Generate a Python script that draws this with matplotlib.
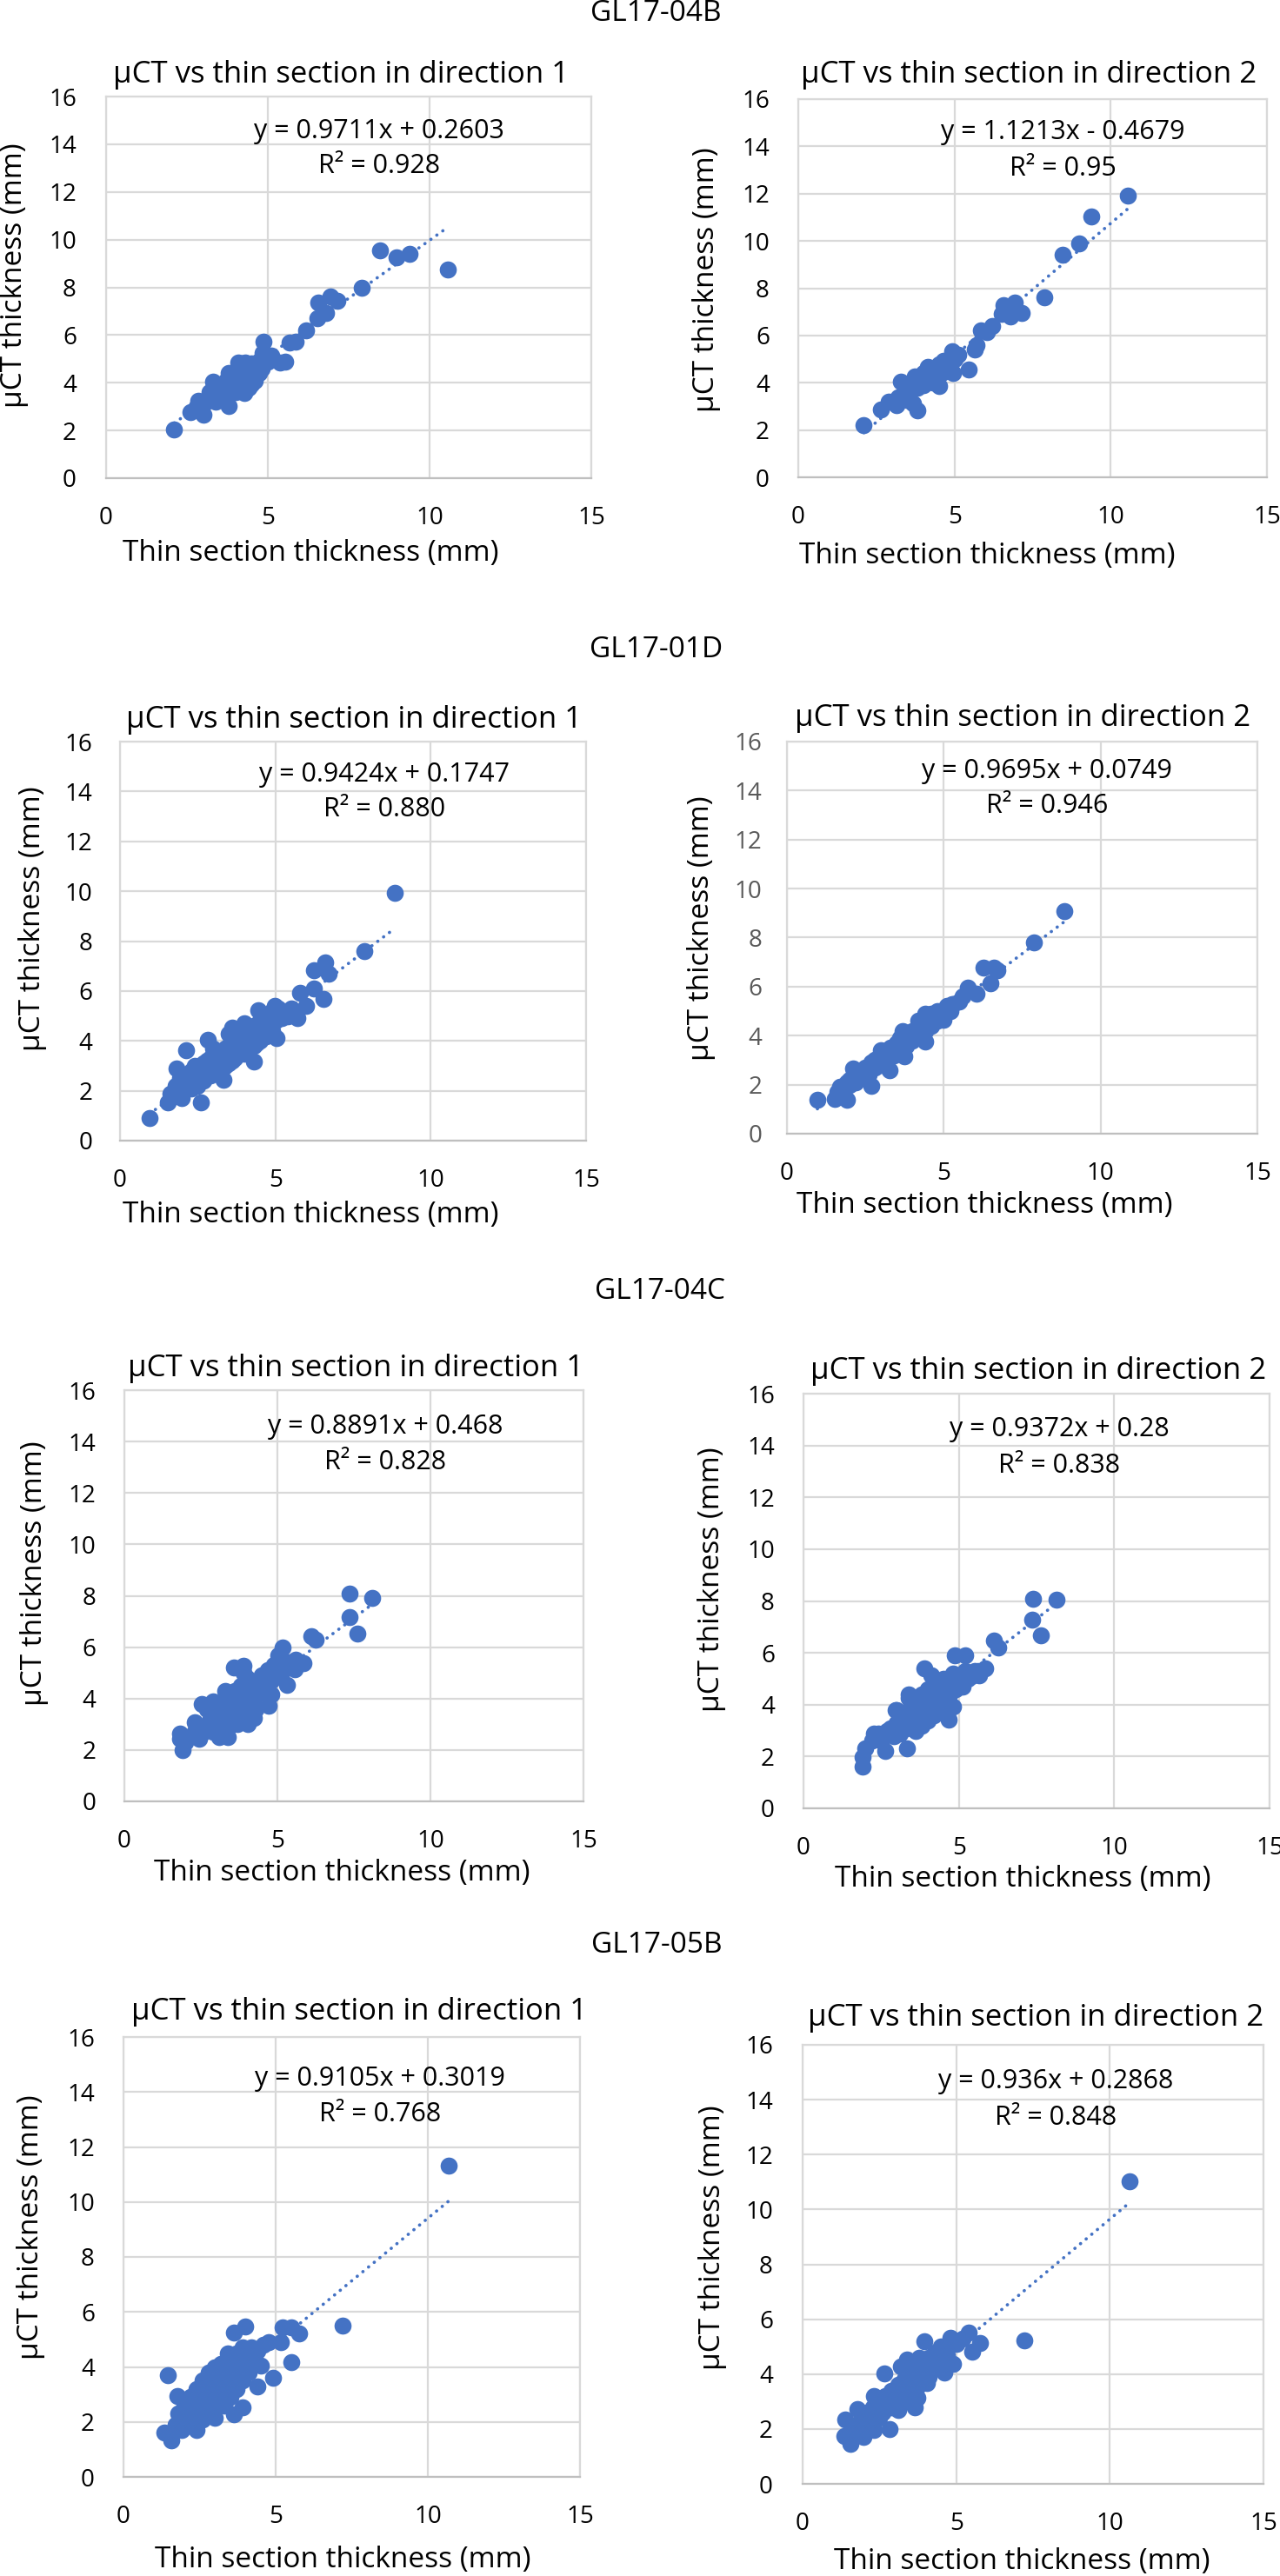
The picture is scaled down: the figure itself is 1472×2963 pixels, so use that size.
import numpy as np
import matplotlib
matplotlib.use("Agg")
import matplotlib.pyplot as plt

plt.rcParams['font.family'] = ['Open Sans', 'DejaVu Sans']

# ---------------- data ----------------
samples = ["GL17-04B", "GL17-01D", "GL17-04C", "GL17-05B"]
panel_titles = ["μCT vs thin section in direction 1", "μCT vs thin section in direction 2"]
x_label = "Thin section thickness (mm)"
y_label = "μCT thickness (mm)"
x_ticks = [0, 5, 10, 15]
y_ticks = [0, 2, 4, 6, 8, 10, 12, 14, 16]

# (thin section thickness, µCT thickness) pairs
gl04b_dir1 = [(2.11, 2.03), (2.60, 2.76), (2.86, 3.25), (3.01, 2.67), (3.30, 4.05), (3.45, 3.45),
              (3.79, 3.04), (3.83, 4.34), (4.09, 4.83), (4.28, 3.58), (4.31, 4.83), (4.49, 3.93),
              (4.72, 4.42), (4.87, 5.72), (4.85, 5.24), (5.10, 5.15), (5.38, 4.83), (5.55, 4.88),
              (5.67, 5.69), (5.86, 5.72), (6.18, 6.18), (6.54, 6.70), (6.57, 7.38), (6.81, 6.94),
              (6.94, 7.63), (7.16, 7.43), (7.89, 8.00), (8.46, 9.54), (8.97, 9.25), (9.39, 9.41),
              (10.56, 8.76),
              (3.2, 3.6), (3.5, 3.9), (3.6, 3.3), (3.7, 4.1), (3.9, 3.8), (4.0, 4.3), (4.1, 4.0),
              (4.2, 4.5), (4.3, 4.2), (4.4, 4.6), (4.5, 4.4), (4.6, 4.7), (4.7, 4.9), (4.8, 4.6),
              (4.9, 5.0), (5.0, 4.9), (3.4, 3.2), (3.0, 3.1), (2.8, 3.0), (4.4, 3.8), (4.6, 4.1),
              (3.8, 4.4), (4.2, 4.8), (4.0, 3.6), (3.6, 3.6), (3.9, 4.1), (4.1, 4.4), (4.3, 4.6),
              (4.5, 4.8), (3.3, 3.5), (4.7, 4.6)]

gl04b_dir2 = [(2.10, 2.22), (2.63, 2.87), (2.89, 3.20), (3.15, 3.04), (3.28, 4.05), (3.48, 3.28),
              (3.68, 3.12), (3.81, 2.84), (3.74, 4.27), (4.01, 4.43), (4.14, 4.68), (4.27, 4.18),
              (4.51, 3.86), (4.66, 4.92), (4.93, 5.33), (4.95, 4.43), (5.12, 5.17), (5.45, 4.56),
              (5.65, 5.42), (5.71, 5.58), (5.85, 6.20), (6.04, 6.15), (6.21, 6.40), (6.57, 7.30),
              (6.50, 6.92), (6.80, 6.81), (6.92, 7.38), (7.16, 6.97), (7.88, 7.63), (8.47, 9.40),
              (9.00, 9.88), (9.37, 11.03), (10.55, 11.93),
              (3.9, 4.1), (4.2, 4.3), (4.4, 4.5), (4.6, 4.4), (4.8, 4.7), (3.6, 3.7), (3.4, 3.5),
              (4.0, 3.9), (5.0, 5.0), (4.3, 4.0), (3.2, 3.4), (3.5, 3.3), (3.8, 3.8), (4.1, 4.2),
              (4.5, 4.8), (3.0, 3.2)]

gl01d_dir1 = [(0.95, 0.92), (1.55, 1.53), (1.61, 1.88), (1.81, 2.89), (2.12, 3.63), (1.94, 2.51),
              (2.59, 1.53), (2.84, 4.06), (3.60, 4.53), (3.33, 2.43), (4.30, 3.18), (5.05, 4.11),
              (4.46, 5.23), (4.99, 5.39), (5.71, 4.92), (5.98, 5.39), (5.78, 5.93), (6.24, 6.09),
              (6.55, 5.67), (6.24, 6.82), (6.60, 7.14), (6.71, 6.71), (7.87, 7.60), (8.85, 9.95),
              (1.7, 1.8), (1.9, 2.0), (2.0, 1.7), (2.1, 2.3), (2.2, 2.6), (2.3, 2.1), (2.4, 2.5),
              (2.5, 2.9), (2.5, 2.2), (2.6, 2.7), (2.7, 3.1), (2.7, 2.4), (2.8, 2.8), (2.9, 3.3),
              (2.9, 2.6), (3.0, 3.0), (3.1, 3.4), (3.1, 2.7), (3.2, 3.2), (3.3, 3.6), (3.3, 2.9),
              (3.4, 3.3), (3.5, 3.8), (3.5, 3.1), (3.6, 3.5), (3.7, 4.0), (3.7, 3.3), (3.8, 3.7),
              (3.9, 4.2), (3.9, 3.5), (4.0, 3.9), (4.1, 4.4), (4.1, 3.6), (4.2, 4.0), (4.3, 4.6),
              (4.3, 3.8), (4.4, 4.2), (4.5, 4.8), (4.5, 4.0), (4.6, 4.4), (4.7, 5.0), (4.7, 4.2),
              (4.8, 4.6), (4.9, 5.2), (4.9, 4.4), (5.0, 4.8), (5.1, 5.3), (5.2, 4.9), (5.3, 5.1),
              (5.4, 5.0), (5.5, 5.3), (5.6, 5.2), (3.0, 3.7), (3.5, 4.3), (4.0, 4.7), (2.3, 2.8),
              (1.8, 2.2), (2.0, 2.1), (2.2, 2.3), (2.4, 2.7), (2.6, 3.0), (2.8, 3.2), (3.0, 3.3),
              (3.2, 3.5), (3.4, 3.7), (3.6, 3.9), (3.8, 4.1), (4.0, 4.3), (4.2, 4.4), (4.4, 4.6),
              (4.6, 4.7), (4.8, 4.9), (5.0, 5.1), (5.2, 5.2), (3.2, 2.9), (3.6, 3.2), (4.0, 3.5),
              (4.4, 3.9), (4.8, 4.3), (2.6, 2.5), (3.4, 3.0), (2.4, 3.0), (2.0, 2.5)]

gl01d_dir2 = [(0.97, 1.39), (1.53, 1.43), (1.92, 1.39), (2.68, 1.95), (2.12, 2.66), (3.27, 2.58),
              (3.75, 3.14), (4.41, 3.77), (3.69, 4.17), (4.41, 4.88), (4.99, 4.64), (5.26, 5.28),
              (5.78, 5.96), (6.04, 5.71), (6.28, 6.78), (6.59, 6.78), (6.72, 6.66), (6.50, 6.15),
              (7.87, 7.81), (8.85, 9.08),
              (1.6, 1.7), (1.7, 1.9), (1.8, 1.7), (1.9, 2.1), (2.0, 2.0), (2.1, 2.3), (2.2, 2.1),
              (2.3, 2.5), (2.4, 2.3), (2.5, 2.7), (2.6, 2.4), (2.7, 2.9), (2.8, 2.7), (2.9, 3.1),
              (3.0, 2.8), (3.1, 3.3), (3.2, 3.0), (3.3, 3.5), (3.4, 3.2), (3.5, 3.7), (3.6, 3.4),
              (3.7, 3.9), (3.8, 3.6), (3.9, 4.1), (4.0, 3.8), (4.1, 4.2), (4.2, 4.0), (4.3, 4.5),
              (4.4, 4.2), (4.5, 4.6), (4.6, 4.4), (4.7, 4.8), (4.8, 4.6), (4.9, 5.0), (5.0, 4.8),
              (5.1, 5.2), (5.2, 5.0), (5.3, 5.3), (5.5, 5.4), (5.6, 5.6), (2.2, 2.6), (3.0, 3.4),
              (3.6, 3.9), (4.2, 4.6), (4.6, 4.9), (2.0, 2.2), (2.4, 2.6), (2.8, 3.0), (3.2, 3.4),
              (3.6, 3.8), (4.0, 4.2), (4.4, 4.6), (4.8, 5.0), (3.4, 3.5), (3.8, 4.0), (4.8, 4.9)]

gl04c_dir1 = [(1.89, 2.00), (1.82, 2.65), (1.82, 2.45), (2.43, 2.42), (2.29, 3.07), (2.52, 3.78),
              (2.90, 3.89), (3.10, 2.50), (3.37, 2.50), (3.57, 5.22), (3.90, 5.29), (4.04, 3.02),
              (4.24, 3.25), (4.71, 3.73), (4.80, 4.16), (5.31, 4.54), (5.18, 6.00), (5.04, 5.67),
              (5.58, 5.14), (5.85, 5.37), (6.12, 6.43), (6.25, 6.28), (7.35, 8.09), (7.35, 7.18),
              (7.62, 6.53), (8.10, 7.91),
              (2.6, 2.8), (2.8, 3.2), (2.9, 2.7), (3.0, 3.5), (3.1, 3.0), (3.2, 3.8), (3.3, 3.3),
              (3.4, 4.1), (3.4, 2.9), (3.5, 3.6), (3.6, 4.3), (3.6, 3.2), (3.7, 3.9), (3.8, 4.5),
              (3.8, 3.4), (3.9, 4.1), (4.0, 4.8), (4.0, 3.6), (4.1, 4.3), (4.2, 3.9), (4.3, 4.6),
              (4.4, 4.2), (4.5, 4.9), (4.6, 4.4), (4.7, 5.1), (4.8, 4.7), (4.9, 5.3), (5.0, 4.9),
              (5.1, 5.5), (5.2, 5.1), (5.4, 5.4), (5.6, 5.5), (3.9, 5.0), (4.1, 4.7), (3.3, 4.3),
              (2.7, 3.6), (3.0, 3.2), (3.2, 3.4), (3.4, 3.6), (3.5, 3.9), (3.6, 3.7), (3.7, 4.1),
              (3.8, 3.9), (3.9, 3.7), (4.0, 4.2), (4.1, 4.0), (4.2, 4.4), (4.3, 4.2), (4.4, 4.5),
              (4.5, 4.4), (4.6, 4.7), (4.7, 4.5), (4.8, 5.0), (4.9, 4.8), (5.0, 5.2), (3.3, 3.0),
              (3.1, 3.3), (2.9, 3.0), (2.5, 2.6), (2.3, 2.7), (2.1, 2.5), (2.0, 2.3), (4.3, 3.6),
              (3.7, 3.0), (5.3, 5.2), (5.5, 5.2)]

gl04c_dir2 = [(1.90, 1.62), (1.90, 1.99), (2.27, 2.89), (2.64, 2.22), (3.33, 2.32), (2.96, 3.79),
              (3.40, 4.27), (3.90, 5.41), (4.12, 5.14), (4.68, 3.42), (4.81, 3.94), (4.86, 5.89),
              (5.21, 5.89), (5.11, 4.69), (5.64, 5.14), (5.84, 5.39), (6.13, 6.46), (6.26, 6.19),
              (7.40, 8.10), (7.36, 7.28), (7.63, 6.67), (8.13, 8.06),
              (2.5, 2.6), (2.7, 3.0), (2.9, 2.8), (3.0, 3.3), (3.1, 2.9), (3.2, 3.6), (3.3, 3.1),
              (3.4, 3.8), (3.5, 3.3), (3.6, 4.1), (3.6, 3.0), (3.7, 3.6), (3.8, 4.4), (3.8, 3.2),
              (3.9, 3.9), (4.0, 4.6), (4.0, 3.4), (4.1, 4.1), (4.2, 4.8), (4.2, 3.6), (4.3, 4.3),
              (4.4, 3.8), (4.5, 4.6), (4.5, 5.0), (4.6, 4.2), (4.7, 4.8), (4.8, 5.2), (4.9, 4.6),
              (5.0, 5.0), (5.2, 5.3), (5.4, 5.1), (3.4, 4.4), (3.0, 3.8), (2.4, 2.9),
              (2.6, 2.8), (2.8, 3.1), (3.0, 3.0), (3.2, 3.3), (3.4, 3.5), (3.5, 3.7), (3.6, 3.5),
              (3.7, 3.9), (3.8, 3.7), (3.9, 4.2), (4.0, 4.0), (4.1, 4.4), (4.2, 4.2), (4.3, 4.6),
              (4.4, 4.4), (4.6, 4.6), (4.8, 4.8), (5.0, 4.8), (3.9, 3.5), (4.3, 3.9), (4.7, 4.4),
              (3.3, 3.4), (2.2, 2.6), (2.0, 2.3), (5.3, 5.0), (5.5, 5.3)]

gl05b_dir1 = [(1.46, 3.70), (1.35, 1.61), (1.57, 1.33), (1.76, 2.93), (2.41, 1.70), (3.01, 2.15),
              (3.62, 2.29), (3.92, 2.54), (3.62, 5.26), (4.00, 5.47), (4.41, 3.28), (4.91, 3.59),
              (4.50, 4.06), (5.51, 4.16), (4.77, 4.90), (5.18, 4.90), (5.22, 5.43), (5.51, 5.43),
              (5.78, 5.23), (7.20, 5.51), (10.68, 11.31), (3.42, 4.48),
              (1.7, 1.9), (1.8, 2.3), (1.9, 1.7), (2.0, 2.6), (2.1, 2.0), (2.2, 2.9), (2.3, 2.3),
              (2.4, 3.2), (2.5, 2.6), (2.6, 3.5), (2.6, 2.1), (2.7, 2.9), (2.8, 3.8), (2.8, 2.4),
              (2.9, 3.2), (3.0, 4.0), (3.0, 2.7), (3.1, 3.5), (3.2, 3.0), (3.3, 3.8), (3.3, 2.6),
              (3.4, 3.3), (3.5, 4.2), (3.5, 2.9), (3.6, 3.7), (3.7, 4.5), (3.7, 3.2), (3.8, 4.0),
              (3.9, 3.5), (4.0, 4.4), (4.1, 3.8), (4.2, 4.7), (4.3, 4.1), (4.4, 4.6), (4.6, 4.8),
              (2.4, 2.0), (2.2, 2.5), (3.2, 4.1), (1.8, 2.0), (2.0, 2.2), (2.2, 2.3), (2.4, 2.6),
              (2.6, 2.8), (2.8, 3.0), (3.0, 3.3), (3.2, 3.5), (3.4, 3.6), (3.6, 3.9), (3.8, 4.2),
              (4.0, 4.1), (2.5, 3.0), (2.9, 3.6), (3.1, 3.9), (3.4, 4.0), (3.6, 4.3), (3.9, 4.7),
              (2.7, 2.5), (3.1, 2.8), (3.5, 3.2), (1.6, 1.6), (4.2, 4.3)]

gl05b_dir2 = [(1.35, 1.75), (1.55, 1.47), (1.39, 2.36), (1.99, 1.70), (1.79, 2.71), (2.33, 1.98),
              (2.83, 2.01), (2.66, 4.01), (2.33, 3.21), (3.20, 4.27), (3.40, 4.52), (3.64, 2.78),
              (3.73, 3.14), (3.96, 5.19), (4.06, 3.67), (4.60, 4.06), (4.89, 4.38), (4.80, 5.33),
              (5.40, 5.51), (5.51, 4.81), (5.78, 5.12), (7.21, 5.23), (10.64, 11.02),
              (1.9, 2.3), (2.1, 2.6), (2.2, 2.1), (2.3, 2.8), (2.4, 2.4), (2.5, 3.0), (2.6, 2.6),
              (2.7, 3.2), (2.8, 2.8), (2.9, 3.4), (3.0, 3.0), (3.1, 3.6), (3.1, 2.7), (3.2, 3.2),
              (3.3, 3.8), (3.4, 3.4), (3.5, 4.0), (3.5, 3.0), (3.6, 3.6), (3.7, 4.2), (3.8, 3.8),
              (3.9, 4.4), (4.0, 4.0), (4.1, 4.6), (4.2, 4.2), (4.3, 4.8), (4.4, 4.4), (4.5, 5.0),
              (4.7, 4.7), (5.0, 5.1), (5.2, 5.3), (3.6, 3.3), (2.0, 1.9), (2.0, 2.2), (2.2, 2.5),
              (2.4, 2.7), (2.6, 2.9), (2.8, 3.1), (3.0, 3.3), (3.2, 3.5), (3.4, 3.7), (3.6, 3.9),
              (3.8, 4.1), (4.0, 4.3), (4.2, 4.5), (4.4, 4.7), (4.6, 4.9), (2.5, 2.4), (2.9, 2.8),
              (3.3, 3.1), (3.7, 3.5), (4.1, 3.9), (1.7, 2.0), (3.8, 4.6), (4.5, 4.4)]

# linear trendline coefficients and labels (as printed on the charts)
slopes = [0.9711, 1.1213, 0.9424, 0.9695, 0.8891, 0.9372, 0.9105, 0.936]
intercepts = [0.2603, -0.4679, 0.1747, 0.0749, 0.468, 0.28, 0.3019, 0.2868]
eq_labels = ["y = 0.9711x + 0.2603", "y = 1.1213x - 0.4679", "y = 0.9424x + 0.1747",
             "y = 0.9695x + 0.0749", "y = 0.8891x + 0.468", "y = 0.9372x + 0.28",
             "y = 0.9105x + 0.3019", "y = 0.936x + 0.2868"]
r2_labels = ["R² = 0.928", "R² = 0.95", "R² = 0.880", "R² = 0.946",
             "R² = 0.828", "R² = 0.838", "R² = 0.768", "R² = 0.848"]

panels_data = [gl04b_dir1, gl04b_dir2, gl01d_dir1, gl01d_dir2,
               gl04c_dir1, gl04c_dir2, gl05b_dir1, gl05b_dir2]

# ---------------- layout (reference pixels) ----------------
W, H = 1472, 2963
axes_px = [(122, 680, 111, 550), (918, 1457, 114, 549),
           (138, 674, 853, 1312), (905, 1446, 853, 1304),
           (143, 671, 1599, 2072), (924, 1460, 1603, 2080),
           (142, 667, 2343, 2849), (923, 1453, 2352, 2857)]
title_px = [(392, 95), (1183, 95), (407, 837), (1176, 835),
            (409, 1583), (1194, 1586), (413, 2323), (1191, 2330)]
ylabel_px = [(33, 317), (829, 322), (54, 1057), (823, 1068),
             (56, 1810), (835, 1817), (52, 2562), (836, 2574)]
xlabel_px = [(357, 620), (1135, 623), (357, 1381), (1132, 1370),
             (393, 2138), (1176, 2145), (394, 2928), (1175, 2930)]
ytick_pad_px = [34, 33, 32, 29, 33, 33, 33, 34]
eq_pos = [(8.43, 14.26, 12.80), (8.47, 14.31, 12.77), (8.52, 14.41, 13.01), (8.30, 14.52, 13.09),
          (8.52, 14.32, 12.93), (8.23, 14.35, 12.96), (8.43, 14.23, 12.92), (8.24, 14.42, 13.10)]
sup_px = [(754, 15), (755, 747), (759, 1485), (755, 2238)]

BLUE = '#4472C4'
GRID = '#D9D9D9'
PX = 0.72  # points per pixel at dpi 100

fig = plt.figure(figsize=(W / 100, H / 100), dpi=100)
fig.patch.set_facecolor('white')

for (cx, cy), name in zip(sup_px, samples):
    fig.text(cx / W, 1 - cy / H, name, ha='center', va='center', fontsize=24, color='black')

for i, pts in enumerate(panels_data):
    l, r, t, b = axes_px[i]
    ax = fig.add_axes([l / W, 1 - b / H, (r - l) / W, (b - t) / H])
    ax.set_xlim(0, 15)
    ax.set_ylim(0, 16)
    ax.set_xticks(x_ticks)
    ax.set_yticks(y_ticks)
    ax.grid(True, color=GRID, linewidth=1.6)
    ax.set_axisbelow(True)
    for side, sp in ax.spines.items():
        sp.set_color('#BFBFBF' if side == 'bottom' else GRID)
        sp.set_linewidth(1.6)
    ax.tick_params(axis='both', length=0, labelsize=20, colors='black')
    ax.tick_params(axis='x', pad=32 * PX)
    ax.tick_params(axis='y', pad=ytick_pad_px[i] * PX)
    if i == 3:
        ax.tick_params(axis='y', labelcolor='#595959')

    xs = np.array([p[0] for p in pts])
    ys = np.array([p[1] for p in pts])
    ax.scatter(xs, ys, s=200, color=BLUE, linewidths=0, zorder=3, clip_on=False)

    tx = np.array([xs.min(), xs.max()])
    ax.plot(tx, slopes[i] * tx + intercepts[i], color=BLUE, linewidth=2.7,
            linestyle=(0, (0.05, 2.2)), dash_capstyle='round', zorder=4)

    ex, ey1, ey2 = eq_pos[i]
    ax.text(ex, ey1, eq_labels[i], ha='center', va='baseline', fontsize=22, color='black', zorder=5)
    ax.text(ex, ey2, r2_labels[i], ha='center', va='baseline', fontsize=22, color='black', zorder=5)

    tcx, tcy = title_px[i]
    fig.text(tcx / W, 1 - tcy / H, panel_titles[i % 2], ha='center', va='baseline',
             fontsize=25, color='black')

    ax.set_xlabel(x_label, fontsize=24, color='black')
    ax.set_ylabel(y_label, fontsize=24, color='black')
    xlx, xly = xlabel_px[i]
    ax.xaxis.set_label_coords(xlx / W, 1 - xly / H, transform=fig.transFigure)
    ylx, yly = ylabel_px[i]
    ax.yaxis.set_label_coords(ylx / W, 1 - yly / H, transform=fig.transFigure)

fig.savefig('out.png', dpi=100, facecolor='white')
